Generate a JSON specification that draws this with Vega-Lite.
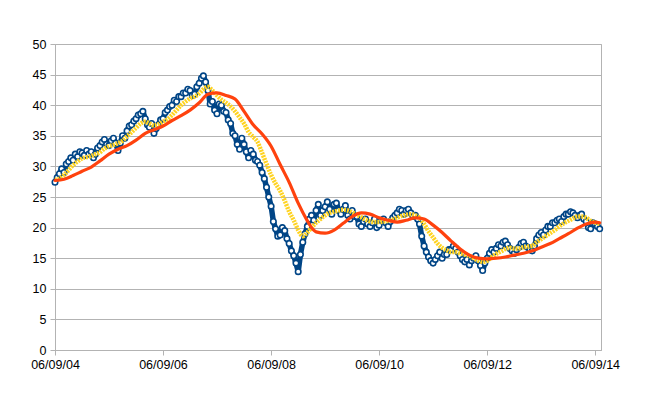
{
  "$schema": "https://vega.github.io/schema/vega-lite/v6.json",
  "width": 546,
  "height": 306,
  "autosize": {"type": "none"},
  "padding": {"left": 55, "top": 44, "right": 45, "bottom": 48},
  "background": "white",
  "config": {
    "view": {"stroke": "#b3b3b3", "strokeWidth": 1},
    "axis": {"labelFont": "Liberation Sans", "labelFontSize": 12.5, "labelColor": "#000000", "domainColor": "#b3b3b3", "tickColor": "#b3b3b3", "gridColor": "#b3b3b3", "tickSize": 5, "title": null}
  },
  "datasets": {
    "price": [
      {"d":"2004-06-09","v":27.4},{"d":"2004-06-24","v":28.2},{"d":"2004-07-09","v":28.8},{"d":"2004-07-24","v":29.6},
      {"d":"2004-08-09","v":29.0},{"d":"2004-08-24","v":30.4},{"d":"2004-09-09","v":30.8},{"d":"2004-09-24","v":31.4},
      {"d":"2004-10-09","v":31.0},{"d":"2004-10-24","v":32.0},{"d":"2004-11-09","v":31.6},{"d":"2004-11-24","v":32.4},
      {"d":"2004-12-09","v":32.2},{"d":"2004-12-24","v":31.8},{"d":"2005-01-09","v":32.6},{"d":"2005-01-24","v":32.0},
      {"d":"2005-02-09","v":32.4},{"d":"2005-02-24","v":31.4},{"d":"2005-03-09","v":32.0},{"d":"2005-03-24","v":33.0},
      {"d":"2005-04-09","v":33.4},{"d":"2005-04-24","v":34.0},{"d":"2005-05-09","v":34.4},{"d":"2005-05-24","v":33.6},
      {"d":"2005-06-09","v":33.4},{"d":"2005-06-24","v":34.2},{"d":"2005-07-09","v":34.6},{"d":"2005-07-24","v":33.8},
      {"d":"2005-08-09","v":32.6},{"d":"2005-08-24","v":33.8},{"d":"2005-09-09","v":35.0},{"d":"2005-09-24","v":34.6},
      {"d":"2005-10-09","v":35.8},{"d":"2005-10-24","v":36.6},{"d":"2005-11-09","v":36.8},{"d":"2005-11-24","v":37.4},
      {"d":"2005-12-09","v":37.8},{"d":"2005-12-24","v":38.4},{"d":"2006-01-09","v":38.6},{"d":"2006-01-24","v":39.0},
      {"d":"2006-02-09","v":37.8},{"d":"2006-02-24","v":36.8},{"d":"2006-03-09","v":36.4},{"d":"2006-03-24","v":37.0},
      {"d":"2006-04-09","v":35.4},{"d":"2006-04-24","v":36.2},{"d":"2006-05-09","v":36.8},{"d":"2006-05-24","v":37.6},
      {"d":"2006-06-09","v":37.8},{"d":"2006-06-24","v":38.8},{"d":"2006-07-09","v":39.2},{"d":"2006-07-24","v":39.8},
      {"d":"2006-08-09","v":40.0},{"d":"2006-08-24","v":40.8},{"d":"2006-09-09","v":40.6},{"d":"2006-09-24","v":41.4},
      {"d":"2006-10-09","v":41.4},{"d":"2006-10-24","v":42.0},{"d":"2006-11-09","v":42.0},{"d":"2006-11-24","v":42.6},
      {"d":"2006-12-09","v":42.4},{"d":"2006-12-24","v":41.6},{"d":"2007-01-09","v":41.8},{"d":"2007-01-24","v":43.0},
      {"d":"2007-02-09","v":43.6},{"d":"2007-02-24","v":44.4},{"d":"2007-03-09","v":44.8},{"d":"2007-03-24","v":43.8},
      {"d":"2007-04-09","v":42.4},{"d":"2007-04-24","v":40.2},{"d":"2007-05-09","v":40.6},{"d":"2007-05-24","v":39.2},
      {"d":"2007-06-09","v":38.6},{"d":"2007-06-24","v":40.2},{"d":"2007-07-09","v":40.0},{"d":"2007-07-24","v":39.0},
      {"d":"2007-08-09","v":38.8},{"d":"2007-08-24","v":37.6},{"d":"2007-09-09","v":37.0},{"d":"2007-09-24","v":35.4},
      {"d":"2007-10-09","v":35.0},{"d":"2007-10-24","v":33.6},{"d":"2007-11-09","v":32.8},{"d":"2007-11-24","v":34.6},
      {"d":"2007-12-09","v":33.6},{"d":"2007-12-24","v":32.4},{"d":"2008-01-09","v":31.4},{"d":"2008-01-24","v":32.6},
      {"d":"2008-02-09","v":32.0},{"d":"2008-02-24","v":31.0},{"d":"2008-03-09","v":30.8},{"d":"2008-03-24","v":30.2},
      {"d":"2008-04-09","v":29.0},{"d":"2008-04-24","v":28.0},{"d":"2008-05-09","v":26.6},{"d":"2008-05-24","v":25.0},
      {"d":"2008-06-09","v":23.5},{"d":"2008-06-24","v":21.0},{"d":"2008-07-09","v":19.8},{"d":"2008-07-24","v":18.6},
      {"d":"2008-08-09","v":18.8},{"d":"2008-08-24","v":20.0},{"d":"2008-09-09","v":19.5},{"d":"2008-09-24","v":18.2},
      {"d":"2008-10-09","v":17.4},{"d":"2008-10-24","v":16.2},{"d":"2008-11-09","v":15.4},{"d":"2008-11-24","v":14.2},
      {"d":"2008-12-09","v":12.8},{"d":"2008-12-24","v":15.6},{"d":"2009-01-09","v":17.6},{"d":"2009-01-24","v":19.0},
      {"d":"2009-02-09","v":20.2},{"d":"2009-02-24","v":21.4},{"d":"2009-03-09","v":22.0},{"d":"2009-03-24","v":21.2},
      {"d":"2009-04-09","v":22.8},{"d":"2009-04-24","v":23.8},{"d":"2009-05-09","v":22.0},{"d":"2009-05-24","v":22.8},
      {"d":"2009-06-09","v":23.4},{"d":"2009-06-24","v":24.2},{"d":"2009-07-09","v":23.0},{"d":"2009-07-24","v":22.2},
      {"d":"2009-08-09","v":23.8},{"d":"2009-08-24","v":24.0},{"d":"2009-09-09","v":22.8},{"d":"2009-09-24","v":22.2},
      {"d":"2009-10-09","v":23.0},{"d":"2009-10-24","v":23.6},{"d":"2009-11-09","v":22.0},{"d":"2009-11-24","v":21.4},
      {"d":"2009-12-09","v":22.8},{"d":"2009-12-24","v":21.8},{"d":"2010-01-09","v":21.8},{"d":"2010-01-24","v":20.6},
      {"d":"2010-02-09","v":20.2},{"d":"2010-02-24","v":21.0},{"d":"2010-03-09","v":21.4},{"d":"2010-03-24","v":20.6},
      {"d":"2010-04-09","v":20.2},{"d":"2010-04-24","v":20.8},{"d":"2010-05-09","v":21.4},{"d":"2010-05-24","v":20.0},
      {"d":"2010-06-09","v":20.4},{"d":"2010-06-24","v":21.2},{"d":"2010-07-09","v":21.4},{"d":"2010-07-24","v":20.8},
      {"d":"2010-08-09","v":20.2},{"d":"2010-08-24","v":21.0},{"d":"2010-09-09","v":21.6},{"d":"2010-09-24","v":22.0},
      {"d":"2010-10-09","v":22.4},{"d":"2010-10-24","v":23.0},{"d":"2010-11-09","v":22.8},{"d":"2010-11-24","v":22.2},
      {"d":"2010-12-09","v":22.8},{"d":"2010-12-24","v":23.0},{"d":"2011-01-09","v":22.4},{"d":"2011-01-24","v":21.8},
      {"d":"2011-02-09","v":22.0},{"d":"2011-02-24","v":21.4},{"d":"2011-03-09","v":20.6},{"d":"2011-03-24","v":18.6},
      {"d":"2011-04-09","v":17.0},{"d":"2011-04-24","v":16.0},{"d":"2011-05-09","v":15.2},{"d":"2011-05-24","v":14.6},
      {"d":"2011-06-09","v":14.2},{"d":"2011-06-24","v":14.8},{"d":"2011-07-09","v":15.4},{"d":"2011-07-24","v":16.0},
      {"d":"2011-08-09","v":15.0},{"d":"2011-08-24","v":15.6},{"d":"2011-09-09","v":15.6},{"d":"2011-09-24","v":16.4},
      {"d":"2011-10-09","v":16.4},{"d":"2011-10-24","v":17.0},{"d":"2011-11-09","v":16.6},{"d":"2011-11-24","v":16.0},
      {"d":"2011-12-09","v":15.4},{"d":"2011-12-24","v":14.8},{"d":"2012-01-09","v":14.4},{"d":"2012-01-24","v":14.8},
      {"d":"2012-02-09","v":13.9},{"d":"2012-02-24","v":14.6},{"d":"2012-03-09","v":15.0},{"d":"2012-03-24","v":15.4},
      {"d":"2012-04-09","v":14.6},{"d":"2012-04-24","v":13.8},{"d":"2012-05-09","v":13.0},{"d":"2012-05-24","v":14.2},
      {"d":"2012-06-09","v":15.0},{"d":"2012-06-24","v":15.8},{"d":"2012-07-09","v":16.4},{"d":"2012-07-24","v":16.0},
      {"d":"2012-08-09","v":16.6},{"d":"2012-08-24","v":17.2},{"d":"2012-09-09","v":17.0},{"d":"2012-09-24","v":17.6},
      {"d":"2012-10-09","v":17.8},{"d":"2012-10-24","v":17.2},{"d":"2012-11-09","v":16.6},{"d":"2012-11-24","v":16.2},
      {"d":"2012-12-09","v":15.8},{"d":"2012-12-24","v":16.4},{"d":"2013-01-09","v":16.8},{"d":"2013-01-24","v":17.4},
      {"d":"2013-02-09","v":17.6},{"d":"2013-02-24","v":17.0},{"d":"2013-03-09","v":16.8},{"d":"2013-03-24","v":16.4},
      {"d":"2013-04-09","v":16.2},{"d":"2013-04-24","v":17.0},{"d":"2013-05-09","v":18.2},{"d":"2013-05-24","v":18.8},
      {"d":"2013-06-09","v":19.2},{"d":"2013-06-24","v":18.8},{"d":"2013-07-09","v":19.6},{"d":"2013-07-24","v":20.2},
      {"d":"2013-08-09","v":20.2},{"d":"2013-08-24","v":20.8},{"d":"2013-09-09","v":20.8},{"d":"2013-09-24","v":21.2},
      {"d":"2013-10-09","v":21.4},{"d":"2013-10-24","v":21.0},{"d":"2013-11-09","v":21.8},{"d":"2013-11-24","v":22.2},
      {"d":"2013-12-09","v":22.2},{"d":"2013-12-24","v":22.6},{"d":"2014-01-09","v":22.4},{"d":"2014-01-24","v":22.0},
      {"d":"2014-02-09","v":21.6},{"d":"2014-02-24","v":22.0},{"d":"2014-03-09","v":22.2},{"d":"2014-03-24","v":21.4},
      {"d":"2014-04-09","v":21.0},{"d":"2014-04-24","v":20.0},{"d":"2014-05-09","v":19.8},{"d":"2014-05-24","v":20.8},
      {"d":"2014-06-09","v":20.6},{"d":"2014-06-24","v":20.2},{"d":"2014-07-09","v":19.8}
    ],
    "ma1": [
      {"d":"2004-06-09","v":27.8},{"d":"2004-07-09","v":28.0},{"d":"2004-08-09","v":28.6},{"d":"2004-09-09","v":29.4},
      {"d":"2004-10-09","v":30.2},{"d":"2004-11-09","v":30.8},{"d":"2004-12-09","v":31.3},{"d":"2005-01-09","v":31.5},
      {"d":"2005-02-09","v":31.7},{"d":"2005-03-09","v":32.0},{"d":"2005-04-09","v":32.3},{"d":"2005-05-09","v":32.9},
      {"d":"2005-06-09","v":33.3},{"d":"2005-07-09","v":33.5},{"d":"2005-08-09","v":33.8},{"d":"2005-09-09","v":34.2},
      {"d":"2005-10-09","v":34.9},{"d":"2005-11-09","v":35.6},{"d":"2005-12-09","v":36.3},{"d":"2006-01-09","v":37.0},
      {"d":"2006-02-09","v":37.3},{"d":"2006-03-09","v":37.0},{"d":"2006-04-09","v":36.7},{"d":"2006-05-09","v":36.9},
      {"d":"2006-06-09","v":37.3},{"d":"2006-07-09","v":37.7},{"d":"2006-08-09","v":38.4},{"d":"2006-09-09","v":39.2},
      {"d":"2006-10-09","v":40.0},{"d":"2006-11-09","v":40.6},{"d":"2006-12-09","v":41.1},{"d":"2007-01-09","v":41.4},
      {"d":"2007-02-09","v":41.9},{"d":"2007-03-09","v":42.6},{"d":"2007-04-09","v":43.0},{"d":"2007-05-09","v":42.4},
      {"d":"2007-06-09","v":41.6},{"d":"2007-07-09","v":40.9},{"d":"2007-08-09","v":40.4},{"d":"2007-09-09","v":39.8},
      {"d":"2007-10-09","v":39.0},{"d":"2007-11-09","v":38.0},{"d":"2007-12-09","v":37.0},{"d":"2008-01-09","v":35.6},
      {"d":"2008-02-09","v":34.8},{"d":"2008-03-09","v":34.0},{"d":"2008-04-09","v":32.2},{"d":"2008-05-09","v":30.4},
      {"d":"2008-06-09","v":28.6},{"d":"2008-07-09","v":27.2},{"d":"2008-08-09","v":26.0},{"d":"2008-09-09","v":24.4},
      {"d":"2008-10-09","v":22.6},{"d":"2008-11-09","v":21.2},{"d":"2008-12-09","v":19.6},{"d":"2009-01-09","v":18.6},
      {"d":"2009-02-09","v":19.2},{"d":"2009-03-09","v":20.0},{"d":"2009-04-09","v":20.8},{"d":"2009-05-09","v":21.4},
      {"d":"2009-06-09","v":22.0},{"d":"2009-07-09","v":22.4},{"d":"2009-08-09","v":22.6},{"d":"2009-09-09","v":22.8},
      {"d":"2009-10-09","v":22.9},{"d":"2009-11-09","v":22.8},{"d":"2009-12-09","v":22.5},{"d":"2010-01-09","v":22.1},
      {"d":"2010-02-09","v":21.7},{"d":"2010-03-09","v":21.3},{"d":"2010-04-09","v":21.0},{"d":"2010-05-09","v":20.9},
      {"d":"2010-06-09","v":20.9},{"d":"2010-07-09","v":21.0},{"d":"2010-08-09","v":21.1},{"d":"2010-09-09","v":21.3},
      {"d":"2010-10-09","v":21.6},{"d":"2010-11-09","v":21.9},{"d":"2010-12-09","v":22.1},{"d":"2011-01-09","v":22.2},
      {"d":"2011-02-09","v":22.0},{"d":"2011-03-09","v":21.6},{"d":"2011-04-09","v":20.6},{"d":"2011-05-09","v":19.4},
      {"d":"2011-06-09","v":18.4},{"d":"2011-07-09","v":17.4},{"d":"2011-08-09","v":16.7},{"d":"2011-09-09","v":16.3},
      {"d":"2011-10-09","v":16.0},{"d":"2011-11-09","v":16.0},{"d":"2011-12-09","v":15.8},{"d":"2012-01-09","v":15.6},
      {"d":"2012-02-09","v":15.4},{"d":"2012-03-09","v":15.0},{"d":"2012-04-09","v":14.6},{"d":"2012-05-09","v":14.4},
      {"d":"2012-06-09","v":14.6},{"d":"2012-07-09","v":15.2},{"d":"2012-08-09","v":15.7},{"d":"2012-09-09","v":16.1},
      {"d":"2012-10-09","v":16.5},{"d":"2012-11-09","v":16.7},{"d":"2012-12-09","v":16.6},{"d":"2013-01-09","v":16.6},
      {"d":"2013-02-09","v":16.8},{"d":"2013-03-09","v":16.9},{"d":"2013-04-09","v":17.0},{"d":"2013-05-09","v":17.6},
      {"d":"2013-06-09","v":18.1},{"d":"2013-07-09","v":18.6},{"d":"2013-08-09","v":19.1},{"d":"2013-09-09","v":19.6},
      {"d":"2013-10-09","v":20.2},{"d":"2013-11-09","v":20.7},{"d":"2013-12-09","v":21.1},{"d":"2014-01-09","v":21.5},
      {"d":"2014-02-09","v":21.8},{"d":"2014-03-09","v":21.8},{"d":"2014-04-09","v":21.6},{"d":"2014-05-09","v":21.1},
      {"d":"2014-06-09","v":20.8},{"d":"2014-07-09","v":20.6}
    ],
    "ma2": [
      {"d":"2004-06-09","v":27.7},{"d":"2004-08-09","v":27.9},{"d":"2004-10-09","v":28.5},{"d":"2004-12-09","v":29.2},
      {"d":"2005-02-09","v":29.9},{"d":"2005-04-09","v":30.9},{"d":"2005-06-09","v":32.0},{"d":"2005-08-09","v":32.8},
      {"d":"2005-10-09","v":33.4},{"d":"2005-12-09","v":34.3},{"d":"2006-02-09","v":35.4},{"d":"2006-04-09","v":36.0},
      {"d":"2006-06-09","v":36.6},{"d":"2006-08-09","v":37.5},{"d":"2006-10-09","v":38.3},{"d":"2006-12-09","v":39.2},
      {"d":"2007-02-09","v":40.4},{"d":"2007-04-09","v":41.8},{"d":"2007-06-09","v":42.0},{"d":"2007-08-09","v":41.6},
      {"d":"2007-10-09","v":41.0},{"d":"2007-12-09","v":39.0},{"d":"2008-02-09","v":36.8},{"d":"2008-04-09","v":35.3},
      {"d":"2008-06-09","v":33.3},{"d":"2008-08-09","v":30.3},{"d":"2008-10-09","v":27.4},{"d":"2008-12-09","v":24.0},
      {"d":"2009-02-09","v":21.1},{"d":"2009-03-09","v":20.0},{"d":"2009-04-09","v":19.3},{"d":"2009-06-09","v":19.1},
      {"d":"2009-08-09","v":19.6},{"d":"2009-10-09","v":20.7},{"d":"2009-12-09","v":21.8},{"d":"2010-02-09","v":22.4},
      {"d":"2010-04-09","v":22.2},{"d":"2010-06-09","v":21.6},{"d":"2010-08-09","v":21.2},{"d":"2010-10-09","v":20.9},
      {"d":"2010-12-09","v":21.2},{"d":"2011-02-09","v":21.6},{"d":"2011-04-09","v":21.4},{"d":"2011-06-09","v":20.4},
      {"d":"2011-08-09","v":19.2},{"d":"2011-10-09","v":17.8},{"d":"2011-12-09","v":16.5},{"d":"2012-02-09","v":15.5},
      {"d":"2012-04-09","v":15.0},{"d":"2012-06-09","v":14.9},{"d":"2012-08-09","v":15.0},{"d":"2012-10-09","v":15.2},
      {"d":"2012-12-09","v":15.5},{"d":"2013-02-09","v":15.8},{"d":"2013-04-09","v":16.2},{"d":"2013-06-09","v":16.8},
      {"d":"2013-08-09","v":17.4},{"d":"2013-10-09","v":18.2},{"d":"2013-12-09","v":19.0},{"d":"2014-02-09","v":19.9},
      {"d":"2014-04-09","v":20.6},{"d":"2014-06-09","v":20.9},{"d":"2014-07-09","v":20.8}
    ]
  },
  "encoding": {
    "x": {
      "field": "d", "type": "temporal",
      "scale": {"domain": [{"year": 2004, "month": 6, "date": 9}, {"year": 2014, "month": 7, "date": 18}]},
      "axis": {
        "grid": false, "format": "%m/%d/%y", "labelPadding": 3, "labelFlush": false,
        "values": [{"year": 2004, "month": 6, "date": 9}, {"year": 2006, "month": 6, "date": 9}, {"year": 2008, "month": 6, "date": 9}, {"year": 2010, "month": 6, "date": 9}, {"year": 2012, "month": 6, "date": 9}, {"year": 2014, "month": 6, "date": 9}]
      }
    },
    "y": {
      "field": "v", "type": "quantitative",
      "scale": {"domain": [0, 50], "nice": false, "zero": true},
      "axis": {"values": [0, 5, 10, 15, 20, 25, 30, 35, 40, 45, 50], "labelPadding": 4}
    }
  },
  "layer": [
    {"data": {"name": "price"}, "mark": {"type": "line", "stroke": "#004586", "strokeWidth": 5.5, "strokeJoin": "round", "strokeCap": "round"}},
    {"data": {"name": "price"}, "mark": {"type": "point", "shape": "circle", "filled": true, "fill": "#ffffff", "stroke": "#004586", "strokeWidth": 1.6, "size": 30, "opacity": 1, "fillOpacity": 1}},
    {"data": {"name": "ma1"}, "mark": {"type": "line", "stroke": "#ffd320", "strokeWidth": 4.5, "strokeDash": [2, 1], "interpolate": "monotone"}},
    {"data": {"name": "ma2"}, "mark": {"type": "line", "stroke": "#ff420e", "strokeWidth": 3.2, "interpolate": "monotone", "strokeJoin": "round", "strokeCap": "round"}}
  ]
}
